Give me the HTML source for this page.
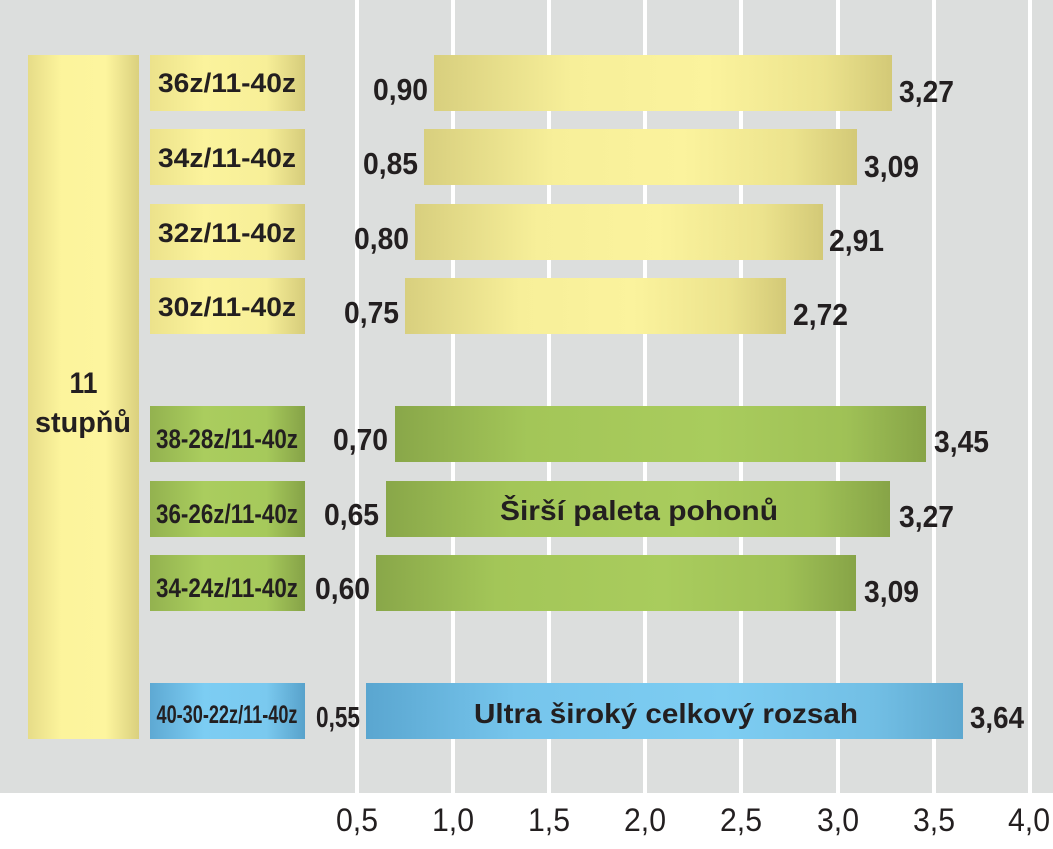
<!DOCTYPE html>
<html>
<head>
<meta charset="utf-8">
<style>
  html,body{margin:0;padding:0;background:#fff;}
  svg{display:block;}
  text{font-family:"Liberation Sans", "DejaVu Sans", sans-serif;fill:#231f20;}
  .b{font-weight:bold;}
</style>
</head>
<body>
<svg width="1053" height="849" viewBox="0 0 1053 849" xmlns="http://www.w3.org/2000/svg">
  <defs>
    <linearGradient id="yBar" x1="0" y1="0" x2="1" y2="0">
      <stop offset="0" stop-color="#d8cf7e"/>
      <stop offset="0.3" stop-color="#f7ef99"/>
      <stop offset="0.6" stop-color="#fbf39d"/>
      <stop offset="0.85" stop-color="#ece38d"/>
      <stop offset="1" stop-color="#d3c977"/>
    </linearGradient>
    <linearGradient id="yLab" x1="0" y1="0" x2="1" y2="0">
      <stop offset="0" stop-color="#ece28b"/>
      <stop offset="0.35" stop-color="#fbf39c"/>
      <stop offset="0.75" stop-color="#f7ef98"/>
      <stop offset="1" stop-color="#d6cc7b"/>
    </linearGradient>
    <linearGradient id="yTall" x1="0" y1="0" x2="1" y2="0">
      <stop offset="0" stop-color="#e6dc88"/>
      <stop offset="0.3" stop-color="#fcf49c"/>
      <stop offset="0.7" stop-color="#fdf59e"/>
      <stop offset="1" stop-color="#dad07e"/>
    </linearGradient>
    <linearGradient id="gBar" x1="0" y1="0" x2="1" y2="0">
      <stop offset="0" stop-color="#89a749"/>
      <stop offset="0.25" stop-color="#a3c658"/>
      <stop offset="0.6" stop-color="#a9cc5d"/>
      <stop offset="0.85" stop-color="#9fc156"/>
      <stop offset="1" stop-color="#87a447"/>
    </linearGradient>
    <linearGradient id="gLab" x1="0" y1="0" x2="1" y2="0">
      <stop offset="0" stop-color="#93b24f"/>
      <stop offset="0.35" stop-color="#aacd5e"/>
      <stop offset="0.75" stop-color="#a6c95b"/>
      <stop offset="1" stop-color="#86a347"/>
    </linearGradient>
    <linearGradient id="bBar" x1="0" y1="0" x2="1" y2="0">
      <stop offset="0" stop-color="#5aa6d0"/>
      <stop offset="0.25" stop-color="#76c5ec"/>
      <stop offset="0.6" stop-color="#7dcdf2"/>
      <stop offset="0.85" stop-color="#72bfe5"/>
      <stop offset="1" stop-color="#5ea8cf"/>
    </linearGradient>
    <linearGradient id="bLab" x1="0" y1="0" x2="1" y2="0">
      <stop offset="0" stop-color="#5ea9d3"/>
      <stop offset="0.35" stop-color="#7ccdf3"/>
      <stop offset="0.75" stop-color="#7ac9ef"/>
      <stop offset="1" stop-color="#58a2cb"/>
    </linearGradient>
  </defs>

  <!-- background -->
  <rect x="0" y="0" width="1053" height="793" fill="#dcdedd"/>
  <rect x="0" y="793" width="1053" height="56" fill="#ffffff"/>

  <!-- gridlines -->
  <g fill="#ffffff">
    <rect x="355" y="0" width="4" height="793"/>
    <rect x="451" y="0" width="4" height="793"/>
    <rect x="547" y="0" width="4" height="793"/>
    <rect x="643" y="0" width="4" height="793"/>
    <rect x="739" y="0" width="4" height="793"/>
    <rect x="836" y="0" width="4" height="793"/>
    <rect x="932" y="0" width="4" height="793"/>
    <rect x="1028" y="0" width="4" height="793"/>
  </g>

  <!-- tall left bar -->
  <rect x="28" y="55" width="111" height="684" fill="url(#yTall)"/>
  <text class="b" x="83.5" y="393" font-size="30" text-anchor="middle" textLength="28" lengthAdjust="spacingAndGlyphs">11</text>
  <text class="b" x="83" y="432" font-size="29" text-anchor="middle" textLength="96" lengthAdjust="spacingAndGlyphs">stupňů</text>

  <!-- label boxes -->
  <rect x="150" y="55" width="155" height="56" fill="url(#yLab)"/>
  <rect x="150" y="129" width="155" height="56" fill="url(#yLab)"/>
  <rect x="150" y="204" width="155" height="56" fill="url(#yLab)"/>
  <rect x="150" y="278" width="155" height="56" fill="url(#yLab)"/>
  <rect x="150" y="406" width="155" height="56" fill="url(#gLab)"/>
  <rect x="150" y="481" width="155" height="56" fill="url(#gLab)"/>
  <rect x="150" y="555" width="155" height="56" fill="url(#gLab)"/>
  <rect x="150" y="683" width="155" height="56" fill="url(#bLab)"/>

  <g class="b" font-size="27" text-anchor="middle">
    <text class="b" x="227" y="92" textLength="138" lengthAdjust="spacingAndGlyphs">36z/11-40z</text>
    <text class="b" x="227" y="167" textLength="138" lengthAdjust="spacingAndGlyphs">34z/11-40z</text>
    <text class="b" x="227" y="242" textLength="138" lengthAdjust="spacingAndGlyphs">32z/11-40z</text>
    <text class="b" x="227" y="316" textLength="138" lengthAdjust="spacingAndGlyphs">30z/11-40z</text>
    <text class="b" x="227" y="448" textLength="142" lengthAdjust="spacingAndGlyphs">38-28z/11-40z</text>
    <text class="b" x="227" y="523" textLength="142" lengthAdjust="spacingAndGlyphs">36-26z/11-40z</text>
    <text class="b" x="227" y="597" textLength="142" lengthAdjust="spacingAndGlyphs">34-24z/11-40z</text>
    <text class="b" x="227" y="723" font-size="25" textLength="141" lengthAdjust="spacingAndGlyphs">40-30-22z/11-40z</text>
  </g>

  <!-- data bars -->
  <rect x="434" y="55" width="458" height="56" fill="url(#yBar)"/>
  <rect x="424" y="129" width="433" height="56" fill="url(#yBar)"/>
  <rect x="415" y="204" width="408" height="56" fill="url(#yBar)"/>
  <rect x="405" y="278" width="381" height="56" fill="url(#yBar)"/>
  <rect x="395" y="406" width="531" height="56" fill="url(#gBar)"/>
  <rect x="386" y="481" width="504" height="56" fill="url(#gBar)"/>
  <rect x="376" y="555" width="480" height="56" fill="url(#gBar)"/>
  <rect x="366" y="683" width="597" height="56" fill="url(#bBar)"/>

  <!-- left values -->
  <g font-size="31">
    <text class="b" x="428" y="100" text-anchor="end" textLength="55" lengthAdjust="spacingAndGlyphs">0,90</text>
    <text class="b" x="418" y="174" text-anchor="end" textLength="55" lengthAdjust="spacingAndGlyphs">0,85</text>
    <text class="b" x="409" y="249" text-anchor="end" textLength="55" lengthAdjust="spacingAndGlyphs">0,80</text>
    <text class="b" x="399" y="323" text-anchor="end" textLength="55" lengthAdjust="spacingAndGlyphs">0,75</text>
    <text class="b" x="388" y="450" text-anchor="end" textLength="55" lengthAdjust="spacingAndGlyphs">0,70</text>
    <text class="b" x="379" y="525" text-anchor="end" textLength="55" lengthAdjust="spacingAndGlyphs">0,65</text>
    <text class="b" x="370" y="599" text-anchor="end" textLength="55" lengthAdjust="spacingAndGlyphs">0,60</text>
    <text class="b" x="360" y="727" text-anchor="end" font-size="29" textLength="44" lengthAdjust="spacingAndGlyphs">0,55</text>
  </g>

  <!-- right values -->
  <g font-size="31">
    <text class="b" x="899" y="102" textLength="55" lengthAdjust="spacingAndGlyphs">3,27</text>
    <text class="b" x="864" y="177" textLength="55" lengthAdjust="spacingAndGlyphs">3,09</text>
    <text class="b" x="829" y="251" textLength="55" lengthAdjust="spacingAndGlyphs">2,91</text>
    <text class="b" x="793" y="325" textLength="55" lengthAdjust="spacingAndGlyphs">2,72</text>
    <text class="b" x="934" y="452" textLength="55" lengthAdjust="spacingAndGlyphs">3,45</text>
    <text class="b" x="899" y="527" textLength="55" lengthAdjust="spacingAndGlyphs">3,27</text>
    <text class="b" x="864" y="602" textLength="55" lengthAdjust="spacingAndGlyphs">3,09</text>
    <text class="b" x="970" y="728" textLength="54" lengthAdjust="spacingAndGlyphs">3,64</text>
  </g>

  <!-- inner bar text -->
  <text class="b" x="639" y="520" font-size="28" text-anchor="middle" textLength="278" lengthAdjust="spacingAndGlyphs">Širší paleta pohonů</text>
  <text class="b" x="666" y="723" font-size="28" text-anchor="middle" textLength="384" lengthAdjust="spacingAndGlyphs">Ultra široký celkový rozsah</text>

  <!-- x-axis labels -->
  <g font-size="32" text-anchor="middle">
    <text x="357" y="831" textLength="42" lengthAdjust="spacingAndGlyphs">0,5</text>
    <text x="453" y="831" textLength="42" lengthAdjust="spacingAndGlyphs">1,0</text>
    <text x="549" y="831" textLength="42" lengthAdjust="spacingAndGlyphs">1,5</text>
    <text x="645" y="831" textLength="42" lengthAdjust="spacingAndGlyphs">2,0</text>
    <text x="741" y="831" textLength="42" lengthAdjust="spacingAndGlyphs">2,5</text>
    <text x="838" y="831" textLength="42" lengthAdjust="spacingAndGlyphs">3,0</text>
    <text x="934" y="831" textLength="42" lengthAdjust="spacingAndGlyphs">3,5</text>
    <text x="1029" y="831" textLength="42" lengthAdjust="spacingAndGlyphs">4,0</text>
  </g>
</svg>
</body>
</html>
